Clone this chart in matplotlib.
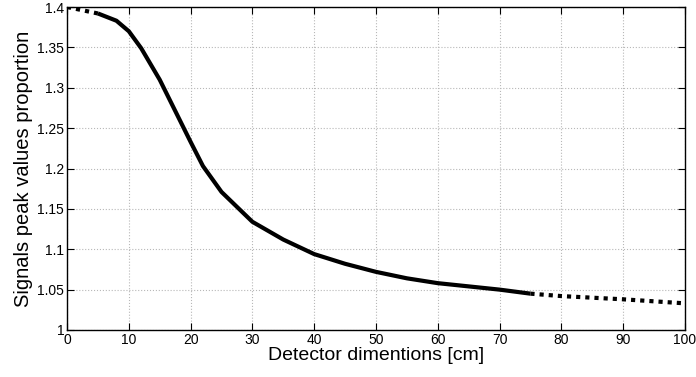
import matplotlib
matplotlib.use('Agg')
import matplotlib.pyplot as plt
import numpy as np

# detector size [cm] and peak value proportion
x_start = [0, 5]
y_start = [1.400, 1.392]

x_main = [5, 8, 10, 12, 15, 20, 22, 25, 30, 35, 40, 45, 50, 55, 60, 65, 70, 75]
y_main = [1.392, 1.383, 1.370, 1.349, 1.310, 1.233, 1.203, 1.171, 1.134, 1.112,
          1.094, 1.082, 1.072, 1.064, 1.058, 1.054, 1.050, 1.045]

x_end = [75, 80, 90, 100]
y_end = [1.045, 1.042, 1.038, 1.033]

xticks = np.arange(0, 101, 10)
yticks = [1, 1.05, 1.1, 1.15, 1.2, 1.25, 1.3, 1.35, 1.4]

plt.rcParams['font.family'] = ['Liberation Sans', 'DejaVu Sans']

fig = plt.figure(figsize=(6.96, 3.77), dpi=100)
ax = fig.add_axes([0.0963, 0.1247, 0.8877, 0.8567])

ax.plot(x_start, y_start, color='black', lw=3, linestyle=(0, (1, 1.2)))
ax.plot(x_main, y_main, color='black', lw=3, solid_capstyle='butt')
ax.plot(x_end, y_end, color='black', lw=3, linestyle=(0, (1, 1.2)))

ax.set_xlim(0, 100)
ax.set_ylim(1, 1.4)
ax.set_xticks(xticks)
ax.set_yticks(yticks)
ax.set_xticklabels([str(v) for v in xticks])
ax.set_yticklabels(['1', '1.05', '1.1', '1.15', '1.2', '1.25', '1.3', '1.35', '1.4'])
ax.tick_params(direction='in', top=True, right=True, length=5, width=0.8, labelsize=10, pad=2)
ax.grid(True, linestyle=':', color='#b8b8b8', linewidth=0.8)
for s in ax.spines.values():
    s.set_linewidth(1.0)

ax.set_xlabel('Detector dimentions [cm]', fontsize=14, labelpad=0)
ax.set_ylabel('Signals peak values proportion', fontsize=14.5, labelpad=3)

fig.savefig('out.png', dpi=100)
